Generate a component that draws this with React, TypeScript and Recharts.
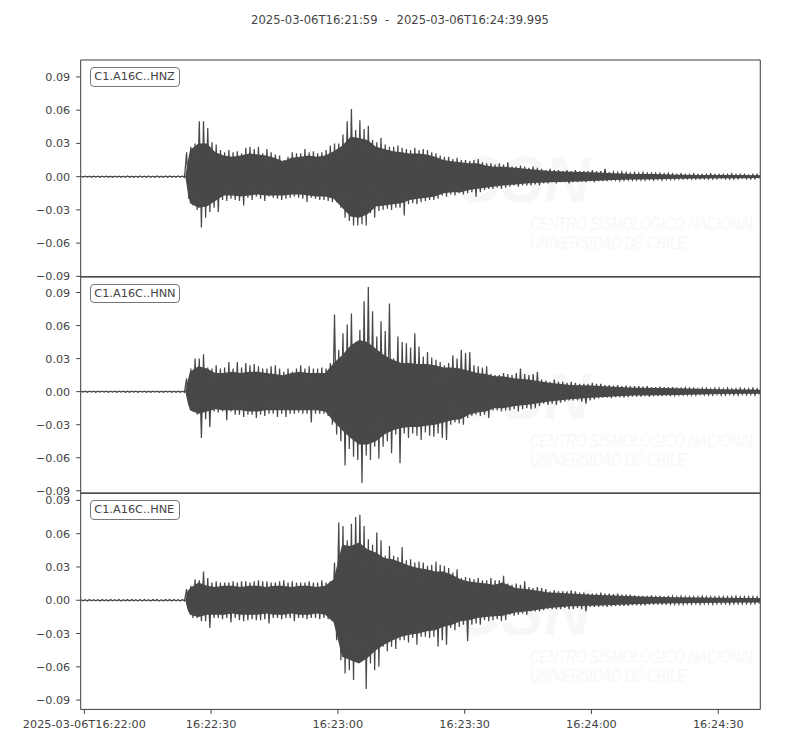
import React from 'react';
import { ComposedChart, Line, Area, XAxis, YAxis, ReferenceArea } from 'recharts';

// seconds relative to 2025-03-06T16:22:00
const FIRST_SECOND = -1;
const XMIN = -0.86;
const XMAX = 159.95;

const timeTickValues = [0, 30, 60, 90, 120, 150];
const timeTickLabels = ['2025-03-06T16:22:00', '16:22:30', '16:23:00', '16:23:30', '16:24:00', '16:24:30'];
const ampTickValues = [-0.09, -0.06, -0.03, 0, 0.03, 0.06, 0.09];
const traceNames = ['C1.A16C..HNZ', 'C1.A16C..HNN', 'C1.A16C..HNE'];
const titleText = '2025-03-06T16:21:59  -  2025-03-06T16:24:39.995';

// per-second peak amplitudes (x 0.001), seconds -1 .. 159
const hnzMax = [
  0.4, 0.5, 0.4, 0.5, 0.4, 0.5, 0.5, 0.4, 0.5, 0.4, 0.5, 0.6, 0.5, 0.5, 0.6, 0.5, 0.6, 0.5, 0.6, 0.5, 0.6, 0.6, 0.5, 0.6, 0.6,
  22, 27, 30, 50, 50, 44, 31, 29, 24, 22,
  24, 22, 23, 21, 26, 27, 25, 27, 21, 25,
  22, 20, 19, 15, 18, 22, 21, 21, 25, 22,
  23, 21, 22, 24, 28, 30, 30, 38, 50, 61,
  42, 51, 43, 46, 33, 31, 35, 29, 27, 27,
  28, 26, 25, 24, 26, 24, 25, 24, 22, 21,
  19, 18, 18, 16, 17, 15, 15, 14, 15, 16,
  13, 12, 12, 11, 12, 11, 13, 9, 9, 10,
  9, 8, 9, 8, 7, 6, 7, 6, 6, 5,
  6, 5, 6, 5, 5, 5, 6, 5, 5, 7,
  4, 4, 3.5, 4, 3.5, 3, 3.5, 3, 3.5, 3,
  3, 3, 3, 2.5, 3, 2.5, 2, 2.5, 2, 2,
  2.5, 2, 2, 2, 2.5, 2, 2, 2, 2, 2.5,
  2, 2, 2, 1.5, 2, 2,
];
const hnzMin = [
  0.4, 0.4, 0.5, 0.4, 0.5, 0.4, 0.5, 0.5, 0.4, 0.5, 0.5, 0.5, 0.6, 0.5, 0.5, 0.6, 0.5, 0.6, 0.5, 0.5, 0.6, 0.5, 0.6, 0.5, 0.6,
  20, 26, 30, 46, 37, 32, 28, 32, 21, 22,
  20, 21, 22, 26, 19, 21, 18, 20, 22, 18,
  19, 20, 21, 20, 19, 18, 19, 20, 23, 19,
  20, 21, 21, 22, 23, 23, 28, 37, 40, 44,
  44, 43, 44, 33, 37, 31, 30, 29, 30, 28,
  28, 35, 25, 24, 25, 23, 22, 21, 21, 20,
  17, 18, 16, 17, 15, 16, 15, 14, 18, 14,
  12, 11, 11, 10, 11, 10, 9, 8, 9, 8,
  8, 8, 7, 8, 6, 6, 5, 6, 5, 5,
  6, 5, 5, 4.5, 5, 4, 5, 4, 4, 4,
  3.5, 3, 3.5, 3, 3, 3, 3, 3, 3, 2.5,
  3, 2.5, 3, 2.5, 2.5, 2.5, 2, 2, 2, 2,
  2, 2, 2, 2, 2, 2, 1.5, 2, 2, 2,
  2, 1.5, 2, 2, 2, 1.5,
];
const hnnMax = [
  0.4, 0.4, 0.5, 0.4, 0.4, 0.5, 0.4, 0.5, 0.4, 0.5, 0.4, 0.5, 0.5, 0.4, 0.5, 0.5, 0.4, 0.5, 0.5, 0.4, 0.5, 0.5, 0.5, 0.4, 0.5,
  12, 21, 30, 30, 34, 22, 21, 24, 21, 22,
  27, 21, 27, 22, 26, 24, 25, 23, 21, 21,
  23, 24, 21, 18, 21, 18, 21, 24, 21, 23,
  21, 21, 22, 21, 26, 70, 38, 53, 61, 71,
  45, 56, 82, 95, 73, 50, 64, 55, 80, 30,
  50, 45, 44, 40, 53, 41, 32, 36, 31, 29,
  27, 24, 26, 33, 30, 38, 35, 36, 24, 23,
  22, 23, 16, 15, 15, 17, 16, 15, 17, 21,
  16, 15, 16, 18, 11, 10, 9, 11, 9, 9,
  8, 9, 8, 7, 7, 7, 8, 7, 7, 6,
  6, 5.5, 6, 5, 5.5, 5, 5, 5, 4.5, 5,
  4, 4, 4.5, 4, 4, 4, 3, 3, 3.5, 3,
  3, 2.5, 3, 3, 2.5, 3, 3, 2.5, 3, 2.5,
  2.5, 3, 2.5, 2.5, 3, 2.5,
];
const hnnMin = [
  0.4, 0.5, 0.4, 0.5, 0.4, 0.4, 0.5, 0.4, 0.5, 0.4, 0.5, 0.5, 0.4, 0.5, 0.4, 0.5, 0.5, 0.4, 0.5, 0.5, 0.4, 0.5, 0.5, 0.5, 0.5,
  12, 18, 21, 42, 25, 32, 18, 19, 18, 26,
  18, 21, 21, 23, 21, 21, 24, 21, 22, 20,
  20, 23, 20, 23, 20, 20, 19, 20, 20, 28,
  20, 20, 20, 22, 30, 39, 45, 67, 52, 59,
  62, 83, 58, 62, 50, 61, 50, 45, 56, 39,
  65, 38, 42, 38, 40, 44, 37, 40, 41, 38,
  42, 44, 30, 28, 29, 30, 24, 22, 21, 22,
  21, 24, 17, 17, 18, 17, 17, 16, 18, 16,
  15, 16, 15, 13, 11, 12, 11, 12, 10, 9,
  8, 8, 8, 9, 11, 8, 7, 6, 5.5, 5.5,
  6, 5, 5, 5.5, 5, 4.5, 4.5, 4.5, 4, 4.5,
  4, 4, 4, 3.5, 4, 3.5, 3, 3, 3, 3,
  3, 2.5, 3, 3, 3, 2.5, 3, 3, 2.5, 3,
  3, 2.5, 3, 2.5, 3, 2.5,
];
const hneMax = [
  0.5, 0.5, 0.6, 0.5, 0.5, 0.6, 0.5, 0.6, 0.5, 0.6, 0.5, 0.6, 0.6, 0.5, 0.6, 0.6, 0.5, 0.6, 0.6, 0.5, 0.6, 0.6, 0.6, 0.5, 0.6,
  10, 13, 19, 18, 26, 20, 16, 17, 16, 16,
  16, 17, 16, 17, 17, 16, 17, 18, 17, 17,
  16, 16, 17, 18, 16, 17, 16, 16, 16, 17,
  16, 16, 18, 16, 17, 34, 70, 67, 54, 69,
  75, 77, 67, 55, 50, 61, 54, 40, 49, 40,
  39, 48, 36, 37, 34, 35, 34, 31, 32, 35,
  32, 31, 29, 25, 28, 20, 21, 20, 19, 20,
  18, 18, 20, 18, 18, 22, 15, 14, 15, 14,
  17, 12, 11, 12, 11, 10, 8, 9, 8, 8,
  8, 9, 8, 7, 7, 6, 6, 6, 7, 6,
  6, 5.5, 6, 5, 5, 5, 4.5, 4, 4, 4,
  4.5, 4, 4, 3.5, 4, 3.5, 3, 3.5, 3, 3,
  3, 3, 3.5, 3, 3, 3, 3, 3, 3, 3,
  3.5, 3, 3, 3, 3, 3,
];
const hneMin = [
  0.5, 0.6, 0.5, 0.5, 0.6, 0.5, 0.6, 0.5, 0.5, 0.6, 0.5, 0.6, 0.5, 0.6, 0.6, 0.5, 0.6, 0.5, 0.6, 0.6, 0.5, 0.6, 0.5, 0.6, 0.6,
  10, 16, 16, 19, 19, 25, 16, 16, 17, 16,
  20, 16, 18, 19, 18, 17, 18, 18, 17, 21,
  16, 16, 17, 16, 16, 19, 16, 16, 17, 16,
  16, 17, 16, 17, 18, 36, 54, 66, 63, 72,
  36, 48, 80, 57, 63, 60, 42, 46, 42, 44,
  36, 36, 38, 34, 40, 33, 33, 34, 33, 42,
  36, 40, 25, 27, 24, 22, 37, 22, 21, 22,
  18, 19, 18, 17, 19, 18, 13, 14, 13, 12,
  13, 10, 10, 10, 9, 8, 8, 8, 8, 7,
  8, 8, 7, 8, 10, 6, 6, 6, 5.5, 6,
  5.5, 5, 5, 5, 5, 4.5, 4.5, 4.5, 4.5, 4,
  4, 4, 4, 4, 3.5, 3.5, 3.5, 3.5, 3, 3.5,
  3, 3.5, 3, 3, 3.5, 3, 3, 3, 3.5, 3,
  3, 3, 3, 3, 3, 3,
];

// edge of the dense (solid) part of each waveform (x 0.001) at these times
const coreTimes = [
  -0.8, 23.9, 24.4,
  25, 27, 29, 31, 33, 35, 37, 39, 41, 43,
  45, 47, 49, 51, 53, 55, 57, 59, 61, 63,
  65, 67, 69, 71, 73, 75, 77, 79, 81, 83,
  85, 87, 89, 91, 93, 95, 97, 99,
  102, 105, 110, 115, 120, 125, 130, 135, 140, 145, 150, 155, 159.9,
];
const hnzCoreUp = [
  0.3, 0.3, 12,
  24, 30, 30, 22, 19, 18, 19, 21, 20, 19,
  17, 14, 17, 18, 19, 18, 19, 23, 28, 36,
  35, 33, 27, 25, 23, 22, 21, 21, 20, 18,
  15, 14, 13, 12, 12, 10, 9, 9,
  8, 7, 5, 4.5, 4, 3, 2.5, 2.3, 1.8, 1.6, 1.5, 1.4, 1.3,
];
const hnzCoreDown = [
  0.3, 0.3, 12,
  24, 28, 27, 22, 17, 17, 18, 17, 16, 17,
  17, 17, 16, 16, 17, 18, 18, 20, 28, 36,
  37, 34, 27, 26, 25, 24, 21, 20, 19, 18,
  15, 14, 14, 12, 11, 10, 9, 8,
  7, 6, 5, 4.5, 4, 3, 2.5, 2.3, 1.8, 1.6, 1.5, 1.4, 1.3,
];
const hnnCoreUp = [
  0.3, 0.3, 9,
  18, 23, 21, 17, 17, 18, 17, 18, 18, 17,
  16, 15, 17, 18, 17, 17, 17, 26, 33, 42,
  47, 45, 39, 33, 29, 26, 26, 25, 25, 24,
  22, 22, 21, 19, 17, 16, 14, 14,
  12, 11, 8, 6, 5.5, 4.5, 3.6, 3.3, 3, 2.6, 2.2, 2, 1.8,
];
const hnnCoreDown = [
  0.3, 0.3, 9,
  17, 20, 18, 16, 17, 17, 17, 18, 18, 17,
  17, 17, 17, 17, 17, 17, 18, 27, 35, 42,
  48, 48, 45, 39, 35, 33, 32, 32, 31, 30,
  28, 26, 25, 21, 19, 18, 15, 15,
  13, 12, 9, 7, 5.5, 4.5, 3.6, 3.3, 3, 2.6, 2.2, 2, 1.8,
];
const hneCoreUp = [
  0.3, 0.3, 8,
  11, 16, 13, 12, 13, 13, 12, 13, 13, 12,
  13, 13, 12, 13, 13, 12, 13, 19, 50, 49,
  52, 46, 43, 38, 37, 34, 31, 29, 28, 26,
  26, 23, 19, 17, 16, 15, 14, 16,
  11, 10, 7, 6, 5, 4.2, 3.6, 3, 2.6, 2.4, 2.2, 2.1, 2,
];
const hneCoreDown = [
  0.3, 0.3, 8,
  13, 15, 13, 13, 13, 12, 13, 13, 13, 12,
  13, 13, 12, 13, 13, 12, 13, 20, 51, 54,
  57, 52, 45, 40, 36, 33, 31, 30, 28, 27,
  24, 22, 19, 18, 16, 15, 14.5, 14,
  11, 10, 7, 5.5, 5, 4.2, 3.6, 3, 2.6, 2.4, 2.2, 2.1, 2,
];

const yDomains: [number, number][] = [
  [-0.0903, 0.1053],
  [-0.0923, 0.1041],
  [-0.0984, 0.0967],
];

const UNIT = 0.001;
const TRACE = '#484848';
const TEXT = '#444444';
const FONT = '"DejaVu Sans", sans-serif';
const PAD = 10;

function buildZig(maxArr: number[], minArr: number[]) {
  const rows: { t: number; v: number }[] = [];
  for (let i = 0; i < maxArr.length; i++) {
    const s = FIRST_SECOND + i;
    rows.push({ t: s + 0.2, v: maxArr[i] * UNIT });
    rows.push({ t: s + 0.7, v: -minArr[i] * UNIT });
  }
  return rows;
}

function buildCore(up: number[], down: number[]) {
  return coreTimes.map((t, i) => ({ t, band: [-down[i] * UNIT, up[i] * UNIT] }));
}

const fmtAmp = (v: number) => (v < 0 ? '\u2212' + Math.abs(v).toFixed(2) : v.toFixed(2));
const fmtTime = (v: number) => {
  const idx = timeTickValues.indexOf(v);
  return idx >= 0 ? timeTickLabels[idx] : '';
};

type PanelProps = {
  top: number;
  plotHeight: number;
  maxArr: number[];
  minArr: number[];
  coreUp: number[];
  coreDown: number[];
  domain: [number, number];
  showX: boolean;
};

function Panel(p: PanelProps) {
  const zig = buildZig(p.maxArr, p.minArr);
  const core = buildCore(p.coreUp, p.coreDown);
  const axisH = p.showX ? 30 : 0;
  return (
    <div style={{ position: 'absolute', left: 0, top: p.top - PAD }}>
      <ComposedChart
        width={800}
        height={p.plotHeight + axisH + PAD * 2}
        margin={{ top: PAD, right: 39.7, bottom: PAD, left: 0 }}
      >
        <XAxis
          dataKey="t"
          type="number"
          domain={[XMIN, XMAX]}
          allowDataOverflow
          ticks={timeTickValues}
          interval={0}
          tickFormatter={fmtTime}
          hide={!p.showX}
          height={30}
          axisLine={false}
          tickSize={4.5}
          tickMargin={6.5}
          tickLine={{ stroke: TEXT }}
          tick={{ fill: TEXT, fontSize: 11.3, fontFamily: FONT }}
        />
        <YAxis
          type="number"
          domain={p.domain}
          allowDataOverflow
          ticks={ampTickValues}
          interval={0}
          tickFormatter={fmtAmp}
          width={80.7}
          axisLine={false}
          tickSize={4.5}
          tickMargin={6}
          tickLine={{ stroke: TEXT }}
          tick={{ fill: TEXT, fontSize: 11.2, fontFamily: FONT }}
        />
        <Area
          data={core}
          dataKey="band"
          type="linear"
          fill={TRACE}
          fillOpacity={1}
          stroke="none"
          isAnimationActive={false}
        />
        <Line
          data={zig}
          dataKey="v"
          type="linear"
          stroke={TRACE}
          strokeWidth={1.25}
          dot={false}
          isAnimationActive={false}
        />
        <ReferenceArea
          x1={XMIN}
          x2={XMAX}
          y1={p.domain[0]}
          y2={p.domain[1]}
          fill="none"
          stroke="#3a3a3a"
          strokeWidth={1}
        />
      </ComposedChart>
    </div>
  );
}

function Watermark({ top }: { top: number }) {
  const col = '#f7f7f7';
  return (
    <>
      <div
        style={{
          position: 'absolute', left: 455, top: top + 92, fontFamily: '"Liberation Sans", sans-serif',
          fontStyle: 'italic', fontWeight: 700, fontSize: 64, color: col, lineHeight: '56px',
        }}
      >
        CSN
      </div>
      <div
        style={{
          position: 'absolute', left: 530, top: top + 155, fontFamily: '"Liberation Sans", sans-serif',
          fontStyle: 'italic', fontSize: 18, color: col, lineHeight: '18px', whiteSpace: 'nowrap',
          transform: 'scaleX(0.74)', transformOrigin: 'left top',
        }}
      >
        CENTRO SISMOLÓGICO NACIONAL
      </div>
      <div
        style={{
          position: 'absolute', left: 530, top: top + 174, fontFamily: '"Liberation Sans", sans-serif',
          fontStyle: 'italic', fontSize: 18, color: col, lineHeight: '18px', whiteSpace: 'nowrap',
          transform: 'scaleX(0.74)', transformOrigin: 'left top',
        }}
      >
        UNIVERSIDAD DE CHILE
      </div>
    </>
  );
}

function NameBox({ top, name }: { top: number; name: string }) {
  return (
    <div
      style={{
        position: 'absolute', left: 90, top: top + 7, width: 90, height: 19.4, boxSizing: 'border-box',
        border: '1px solid #777', borderRadius: 4, background: 'rgba(255,255,255,0.8)',
        fontFamily: FONT, fontSize: 11.3, color: TEXT, lineHeight: '17.4px', paddingLeft: 3.3,
        whiteSpace: 'nowrap',
      }}
    >
      {name}
    </div>
  );
}

export default function App() {
  const tops = [60.3, 277, 493.3];
  const heights = [216.7, 216.3, 216.4];
  const maxes = [hnzMax, hnnMax, hneMax];
  const mins = [hnzMin, hnnMin, hneMin];
  const ups = [hnzCoreUp, hnnCoreUp, hneCoreUp];
  const downs = [hnzCoreDown, hnnCoreDown, hneCoreDown];
  return (
    <div style={{ position: 'absolute', left: 0, top: 0, width: 800, height: 750, background: '#fff', fontFamily: FONT }}>
      <div
        style={{
          position: 'absolute', left: 0, top: 13, width: 800, textAlign: 'center', fontSize: 11.6,
          lineHeight: '14px', color: TEXT, whiteSpace: 'pre',
        }}
      >
        {titleText}
      </div>
      {tops.map((t, i) => (
        <Watermark key={'w' + i} top={t} />
      ))}
      {tops.map((t, i) => (
        <Panel
          key={'p' + i}
          top={t}
          plotHeight={heights[i]}
          maxArr={maxes[i]}
          minArr={mins[i]}
          coreUp={ups[i]}
          coreDown={downs[i]}
          domain={yDomains[i]}
          showX={i === 2}
        />
      ))}
      {tops.map((t, i) => (
        <NameBox key={'n' + i} top={t} name={traceNames[i]} />
      ))}
    </div>
  );
}
